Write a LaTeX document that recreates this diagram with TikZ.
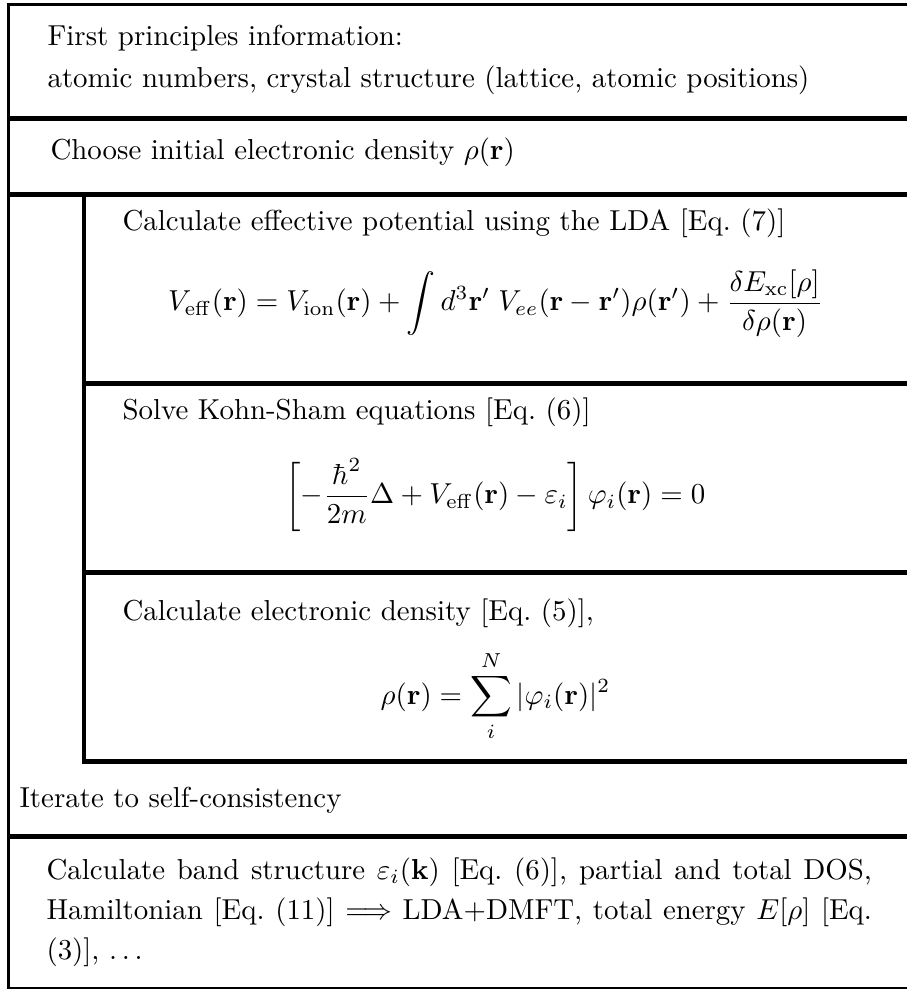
\documentclass[tikz,border=0pt]{standalone}
\usepackage{amsmath}
\begin{document}
\begin{tikzpicture}[x=0.3465pt,y=-0.3465pt,
  txt/.style={inner sep=0pt,anchor=base west},
  eqn/.style={inner sep=0pt,anchor=base},
  rulea/.style={line width=1.0pt},
  ruleb/.style={line width=1.85pt},
  rulec/.style={line width=1.4pt},
  ruled/.style={line width=0.7pt}]
\useasboundingbox (0,0) rectangle (907,989);
% rules
\draw[rulea] (7,4.5) -- (907,4.5);
\draw[rulea] (8.5,3) -- (8.5,989);
\draw[ruleb] (7,118.5) -- (907,118.5);
\draw[ruleb] (7,194.5) -- (907,194.5);
\draw[rulec] (84,194.5) -- (84,762.5);
\draw[ruleb] (84,383.5) -- (907,383.5);
\draw[ruleb] (84,572.5) -- (907,572.5);
\draw[rulec] (82,761.5) -- (907,761.5);
\draw[ruleb] (7,836.5) -- (907,836.5);
\draw[ruled] (7,987.8) -- (907,987.8);
% texts
\node[txt] (t1) at (47,45.5) {First principles information:};
\node[txt] (t2) at (47,88) {atomic numbers, crystal structure (lattice, atomic positions)};
\node[txt] (t3) at (50,159.5) {Choose initial electronic density $\rho(\mathbf{r})$};
\node[txt] (t4) at (122,231) {Calculate effective potential using the LDA [Eq.~(7)]};
\node[eqn] (e1) at (495.5,311) {$\displaystyle V_{\mathrm{eff}}(\mathbf{r}) = V_{\mathrm{ion}}(\mathbf{r}) + \int d^3\mathbf{r}'\; V_{ee}(\mathbf{r}-\mathbf{r}')\rho(\mathbf{r}') + \frac{\delta E_{\mathrm{xc}}[\rho]}{\delta\rho(\mathbf{r})}$};
\node[txt] (t5) at (122,419.5) {Solve Kohn-Sham equations [Eq.~(6)]};
\node[eqn] (e2) at (495.5,504) {$\displaystyle \left[-\frac{\hbar^2}{2m}\Delta + V_{\mathrm{eff}}(\mathbf{r}) - \varepsilon_i\right]\varphi_i(\mathbf{r}) = 0$};
\node[txt] (t6) at (122,620.5) {Calculate electronic density [Eq.~(5)],};
\node[eqn] (e3) at (495.5,704) {$\displaystyle \rho(\mathbf{r}) = \sum_i^N |\varphi_i(\mathbf{r})|^2$};
\node[txt] (t7) at (19,807) {Iterate to self-consistency};
\node[txt] (t8) at (46,879) {\makebox[286pt][s]{Calculate band structure $\varepsilon_i(\mathbf{k})$ [Eq.~(6)], partial and total DOS,}};
\node[txt] (t9) at (46,919) {\makebox[286pt][s]{Hamiltonian [Eq.~(11)] $\Longrightarrow$ LDA+DMFT, total energy $E[\rho]$ [Eq.}};
\node[txt] (t10) at (46,959) {(3)], $\ldots$};
\end{tikzpicture}
\end{document}
